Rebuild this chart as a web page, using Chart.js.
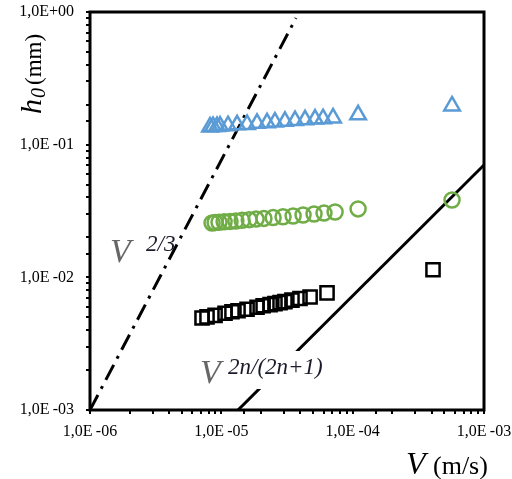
<!DOCTYPE html>
<html>
<head>
<script src="https://cdn.jsdelivr.net/npm/chart.js@4/dist/chart.umd.min.js"></script>
<style>
  body { margin: 0; background: #fff; }
</style>
</head>
<body>
<canvas id="myChart" width="512" height="479"></canvas>
<script>
// velocity V (m/s) and film thickness h0 (mm)
var triV = [8.2e-6, 8.65e-6, 9.27e-6, 9.78e-6, 1.125e-5, 1.318e-5, 1.57e-5, 1.87e-5, 2.23e-5, 2.56e-5, 3.05e-5, 3.64e-5, 4.34e-5, 5.17e-5, 5.95e-5, 7.09e-5, 1.1e-4, 5.71e-4];
var triH = [0.136, 0.137, 0.137, 0.138, 0.139, 0.141, 0.142, 0.145, 0.146, 0.148, 0.150, 0.152, 0.154, 0.156, 0.157, 0.159, 0.168, 0.196];

var circV = [8.5e-6, 8.96e-6, 9.6e-6, 1.05e-5, 1.165e-5, 1.29e-5, 1.44e-5, 1.63e-5, 1.84e-5, 2.11e-5, 2.48e-5, 2.95e-5, 3.52e-5, 4.19e-5, 5.08e-5, 6.05e-5, 7.35e-5, 1.1e-4, 5.71e-4];
var circH = [0.0257, 0.0259, 0.0260, 0.0262, 0.0264, 0.0266, 0.0269, 0.0272, 0.0275, 0.0278, 0.0282, 0.0286, 0.0290, 0.0295, 0.0300, 0.0305, 0.0311, 0.0328, 0.0383];

var sqV = [7.13e-6, 7.78e-6, 8.96e-6, 1.067e-5, 1.205e-5, 1.34e-5, 1.57e-5, 1.87e-5, 2.08e-5, 2.35e-5, 2.56e-5, 2.80e-5, 3.05e-5, 3.45e-5, 3.97e-5, 4.74e-5, 6.38e-5, 4.09e-4];
var sqH = [0.00494, 0.00503, 0.00517, 0.00536, 0.00550, 0.00560, 0.00575, 0.00595, 0.00611, 0.00622, 0.00633, 0.00644, 0.00656, 0.00673, 0.00692, 0.00711, 0.00763, 0.0114];

// guide lines: V^(2/3) and V^(2n/(2n+1))
var line23V = [1e-6, 3.7e-5];
var line23H = [1e-3, 0.9];
var line2nV = [1.34e-5, 1e-3];
var line2nH = [1e-3, 0.0703];

var xTickVals = [1e-6, 1e-5, 1e-4, 1e-3];
var xTickLabels = ['1,0E\u2009-06', '1,0E\u2009-05', '1,0E\u2009-04', '1,0E\u2009-03'];
var yTickVals = [1e-3, 1e-2, 1e-1, 1];
var yTickLabels = ['1,0E\u2009-03', '1,0E\u2009-02', '1,0E\u2009-01', '1,0E+00'];

function pts(xs, ys) {
    var out = [];
    for (var i = 0; i < xs.length; i++) out.push({x: xs[i], y: ys[i]});
    return out;
}

function tickLabel(vals, labels) {
    return function(value) {
        for (var i = 0; i < vals.length; i++) {
            if (Math.abs(Math.log10(value) - Math.log10(vals[i])) < 1e-6) return labels[i];
        }
        return '';
    };
}

var serif = '"Liberation Serif", "Times New Roman", serif';

// frame, formula labels and axis titles
var decor = {
    id: 'decor',
    afterDatasetsDraw: function(chart) {
        var ctx = chart.ctx, a = chart.chartArea;
        ctx.save();
        // white box behind the lower formula (hides part of the line)
        ctx.fillStyle = '#fff';
        ctx.fillRect(198, 351, 136, 38);

        ctx.textBaseline = 'alphabetic';
        ctx.fillStyle = '#666';
        ctx.font = 'italic 34px ' + serif;
        ctx.fillText('V', 110, 262);
        ctx.fillStyle = '#1a1a2a';
        ctx.font = 'italic 23px ' + serif;
        ctx.fillText('2/3', 146, 251);

        ctx.fillStyle = '#666';
        ctx.font = 'italic 34px ' + serif;
        ctx.fillText('V', 200, 383);
        ctx.fillStyle = '#1a1a2a';
        ctx.font = 'italic 23px ' + serif;
        ctx.fillText('2n/(2n+1)', 228, 374);

        // frame
        ctx.strokeStyle = '#000';
        ctx.lineWidth = 3;
        ctx.strokeRect(a.left, a.top, a.right - a.left, a.bottom - a.top);

        // x title
        ctx.fillStyle = '#000';
        ctx.font = 'italic 32px ' + serif;
        ctx.fillText('V', 406, 474);
        ctx.font = '26px ' + serif;
        ctx.fillText('(m/s)', 433, 474);

        // y title, rotated
        ctx.translate(41, 114);
        ctx.rotate(-Math.PI / 2);
        ctx.font = 'italic 30px ' + serif;
        ctx.fillText('h', 0, 0);
        var w = ctx.measureText('h').width;
        ctx.font = 'italic 20px ' + serif;
        ctx.fillText('0', w + 1, 4);
        var w2 = ctx.measureText('0').width;
        ctx.font = '23px ' + serif;
        ctx.fillText('(mm)', w + w2 + 4, 0);
        ctx.restore();
    }
};

var ctx = document.getElementById('myChart').getContext('2d');
var chart = new Chart(ctx, {
    type: 'scatter',
    data: {
        datasets: [
            {
                label: 'V^(2/3)',
                data: pts(line23V, line23H),
                showLine: true,
                borderColor: '#000',
                borderWidth: 3,
                borderDash: [17, 7, 3, 7],
                pointRadius: 0,
                order: 5
            },
            {
                label: 'V^(2n/(2n+1))',
                data: pts(line2nV, line2nH),
                showLine: true,
                borderColor: '#000',
                borderWidth: 3,
                pointRadius: 0,
                order: 4
            },
            {
                label: 'triangles',
                data: pts(triV, triH),
                pointStyle: 'triangle',
                pointRadius: 9,
                pointBorderWidth: 2.5,
                borderColor: '#5B9BD5',
                backgroundColor: 'rgba(255,255,255,0)',
                order: 3
            },
            {
                label: 'circles',
                data: pts(circV, circH),
                pointStyle: 'circle',
                pointRadius: 7.5,
                pointBorderWidth: 2.5,
                borderColor: '#70AD47',
                backgroundColor: 'rgba(255,255,255,0)',
                order: 2
            },
            {
                label: 'squares',
                data: pts(sqV, sqH),
                pointStyle: 'rect',
                pointRadius: 9.3,
                pointBorderWidth: 2.5,
                borderColor: '#000',
                backgroundColor: 'rgba(255,255,255,0)',
                order: 1
            }
        ]
    },
    options: {
        responsive: false,
        animation: false,
        layout: { padding: { left: 0, right: 28, top: 12, bottom: 0 } },
        plugins: {
            legend: { display: false },
            tooltip: { enabled: false }
        },
        scales: {
            x: {
                type: 'logarithmic',
                min: 1e-6,
                max: 1e-3,
                border: { display: false },
                grid: { display: true, drawOnChartArea: false, drawTicks: true, tickLength: 4, color: '#000', lineWidth: 2 },
                ticks: {
                    autoSkip: false,
                    maxRotation: 0,
                    padding: 8,
                    color: '#000',
                    font: { family: serif, size: 16 },
                    callback: tickLabel(xTickVals, xTickLabels)
                },
                afterFit: function(s) {
                    s.height = 69;
                    s.paddingLeft = 0;
                    s.paddingRight = 0;
                }
            },
            y: {
                type: 'logarithmic',
                min: 1e-3,
                max: 1,
                border: { display: false },
                grid: { display: true, drawOnChartArea: false, drawTicks: true, tickLength: 4, color: '#000', lineWidth: 2 },
                ticks: {
                    autoSkip: false,
                    padding: 12,
                    color: '#000',
                    font: { family: serif, size: 16 },
                    callback: tickLabel(yTickVals, yTickLabels)
                },
                afterFit: function(s) {
                    s.width = 90;
                    s.paddingTop = 0;
                    s.paddingBottom = 0;
                }
            }
        }
    },
    plugins: [decor]
});
</script>
</body>
</html>
